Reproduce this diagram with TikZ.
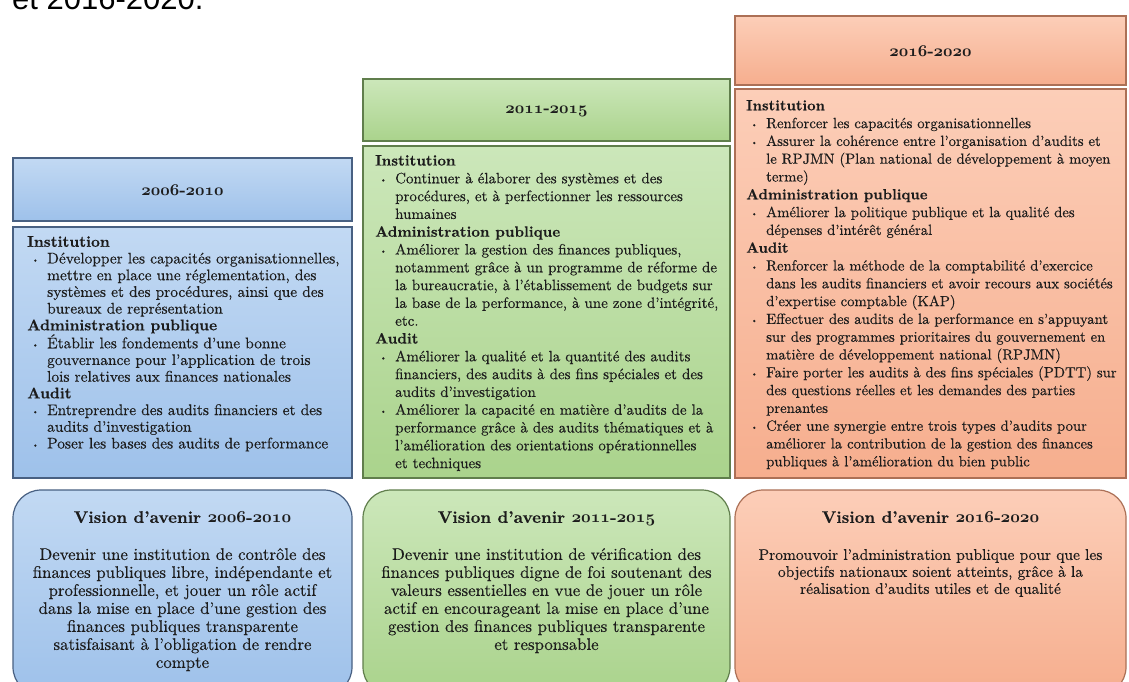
\documentclass[tikz,border=0pt]{standalone}
\usepackage{fontspec}
\newfontfamily\capfont{Liberation Sans}
\newfontfamily\bodyfont{lmroman10-regular.otf}[BoldFont = lmroman10-bold.otf, FakeBold = 0.3, Ligatures = TeX]
\usepackage{tikz}

\DeclareFontFamily{OML}{cmmx}{\skewchar\font=127}
\DeclareFontShape{OML}{cmmx}{b}{it}{<->cmmib10}{}

\definecolor{bluetop}{RGB}{194,217,243}
\definecolor{bluefill}{RGB}{158,193,234}
\definecolor{blueline}{RGB}{72,96,130}
\definecolor{greentop}{RGB}{204,231,186}
\definecolor{greenfill}{RGB}{170,211,140}
\definecolor{greenline}{RGB}{96,126,76}
\definecolor{orangetop}{RGB}{252,206,184}
\definecolor{orangefill}{RGB}{246,174,142}
\definecolor{orangeline}{RGB}{172,112,86}
\definecolor{textcol}{RGB}{28,28,28}

\newcommand{\bitem}{\makebox[20pt][l]{\hspace{5pt}\raisebox{1pt}{\footnotesize\textbullet}}}
\newcommand{\bcont}{\hspace*{20pt}}
\newcommand{\osf}[1]{{\usefont{OML}{cmmx}{b}{it}#1}}
\newcommand{\yr}[2]{\osf{#1}-\osf{#2}}

\begin{document}
\begin{tikzpicture}[x = 1pt, y = -1pt,
  bluebox/.style = {draw = blueline, line width = 1.2pt, top color = bluetop, bottom color = bluefill},
  greenbox/.style = {draw = greenline, line width = 1.2pt, top color = greentop, bottom color = greenfill},
  orangebox/.style = {draw = orangeline, line width = 1.2pt, top color = orangetop, bottom color = orangefill},
  vision/.style = {rounded corners = 28pt},
  yeartext/.style = {inner sep = 0pt, text = textcol, font = \bodyfont\bfseries\fontsize{16.5}{18}\selectfont},
  bodytext/.style = {anchor = north west, inner sep = 0pt, align = left, text = textcol},
  visiontext/.style = {anchor = north, inner sep = 0pt, align = center, text = textcol,
    font = \bodyfont\fontsize{16.8}{18}\selectfont}]
\useasboundingbox [fill = white] (0, 0) rectangle (1129, 681);

\node [anchor = base west, inner sep = 0pt, font = \capfont\fontsize{31}{36}\selectfont] (intro) at (12, 9) {et 2016-2020.};

% headers
\draw [bluebox] (13, 158) rectangle (352, 221);
\draw [greenbox] (363, 79) rectangle (730, 141);
\draw [orangebox] (735, 16) rectangle (1126, 85);
\node [yeartext] (y1) at (182.5, 190) {\yr{2006}{2010}};
\node [yeartext] (y2) at (546.5, 111) {\yr{2011}{2015}};
\node [yeartext] (y3) at (930.5, 51) {\yr{2016}{2020}};

% bodies
\draw [bluebox] (13, 227) rectangle (352, 478);
\draw [greenbox] (363, 146) rectangle (730, 478);
\draw [orangebox] (735, 89) rectangle (1126, 478);

\node [bodytext, font = \bodyfont\fontsize{15.4}{16.7}\selectfont] (b1) at (27, 236) {%
\textbf{Institution}\\
\bitem Développer les capacités organisationnelles,\\
\bcont mettre en place une réglementation, des\\
\bcont systèmes et des procédures, ainsi que des\\
\bcont bureaux de représentation\\
\textbf{Administration publique}\\
\bitem Établir les fondements d'une bonne\\
\bcont gouvernance pour l'application de trois\\
\bcont lois relatives aux finances nationales\\
\textbf{Audit}\\
\bitem Entreprendre des audits financiers et des\\
\bcont audits d'investigation\\
\bitem Poser les bases des audits de performance};

\node [bodytext, font = \bodyfont\fontsize{15}{17.8}\selectfont] (b2) at (375, 155) {%
\textbf{Institution}\\
\bitem Continuer à élaborer des systèmes et des\\
\bcont procédures, et à perfectionner les ressources\\
\bcont humaines\\
\textbf{Administration publique}\\
\bitem Améliorer la gestion des finances publiques,\\
\bcont notamment grâce à un programme de réforme de\\
\bcont la bureaucratie, à l'établissement de budgets sur\\
\bcont la base de la performance, à une zone d'intégrité,\\
\bcont etc.\\
\textbf{Audit}\\
\bitem Améliorer la qualité et la quantité des audits\\
\bcont financiers, des audits à des fins spéciales et des\\
\bcont audits d'investigation\\
\bitem Améliorer la capacité en matière d'audits de la\\
\bcont performance grâce à des audits thématiques et à\\
\bcont l'amélioration des orientations opérationnelles\\
\bcont et techniques};

\node [bodytext, font = \bodyfont\fontsize{14.7}{17.8}\selectfont] (b3) at (746, 100) {%
\textbf{Institution}\\
\bitem Renforcer les capacités organisationnelles\\
\bitem Assurer la cohérence entre l'organisation d'audits et\\
\bcont le RPJMN (Plan national de développement à moyen\\
\bcont terme)\\
\textbf{Administration publique}\\
\bitem Améliorer la politique publique et la qualité des\\
\bcont dépenses d'intérêt général\\
\textbf{Audit}\\
\bitem Renforcer la méthode de la comptabilité d'exercice\\
\bcont dans les audits financiers et avoir recours aux sociétés\\
\bcont d'expertise comptable (KAP)\\
\bitem Effectuer des audits de la performance en s'appuyant\\
\bcont sur des programmes prioritaires du gouvernement en\\
\bcont matière de développement national (RPJMN)\\
\bitem Faire porter les audits à des fins spéciales (PDTT) sur\\
\bcont des questions réelles et les demandes des parties\\
\bcont prenantes\\
\bitem Créer une synergie entre trois types d'audits pour\\
\bcont améliorer la contribution de la gestion des finances\\
\bcont publiques à l'amélioration du bien public};

% visions
\draw [bluebox, vision] (13, 490) rectangle (352, 695);
\draw [greenbox, vision] (363, 490) rectangle (730, 695);
\draw [orangebox, vision] (735, 490) rectangle (1126, 695);

\node [visiontext] (v1) at (182.5, 511) {%
\textbf{Vision d'avenir \yr{2006}{2010}}\\[19pt]
Devenir une institution de contrôle des\\
finances publiques libre, indépendante et\\
professionnelle, et jouer un rôle actif\\
dans la mise en place d'une gestion des\\
finances publiques transparente\\
satisfaisant à l'obligation de rendre\\
compte};

\node [visiontext] (v2) at (546.5, 511) {%
\textbf{Vision d'avenir \yr{2011}{2015}}\\[19pt]
Devenir une institution de vérification des\\
finances publiques digne de foi soutenant des\\
valeurs essentielles en vue de jouer un rôle\\
actif en encourageant la mise en place d'une\\
gestion des finances publiques transparente\\
et responsable};

\node [visiontext, font = \bodyfont\fontsize{15.5}{17}\selectfont] (v3) at (930.5, 511) {%
{\fontsize{16.8}{18}\selectfont\textbf{Vision d'avenir \yr{2016}{2020}}}\\[20pt]
Promouvoir l'administration publique pour que les\\
objectifs nationaux soient atteints, grâce à la\\
réalisation d'audits utiles et de qualité};
\end{tikzpicture}
\end{document}
